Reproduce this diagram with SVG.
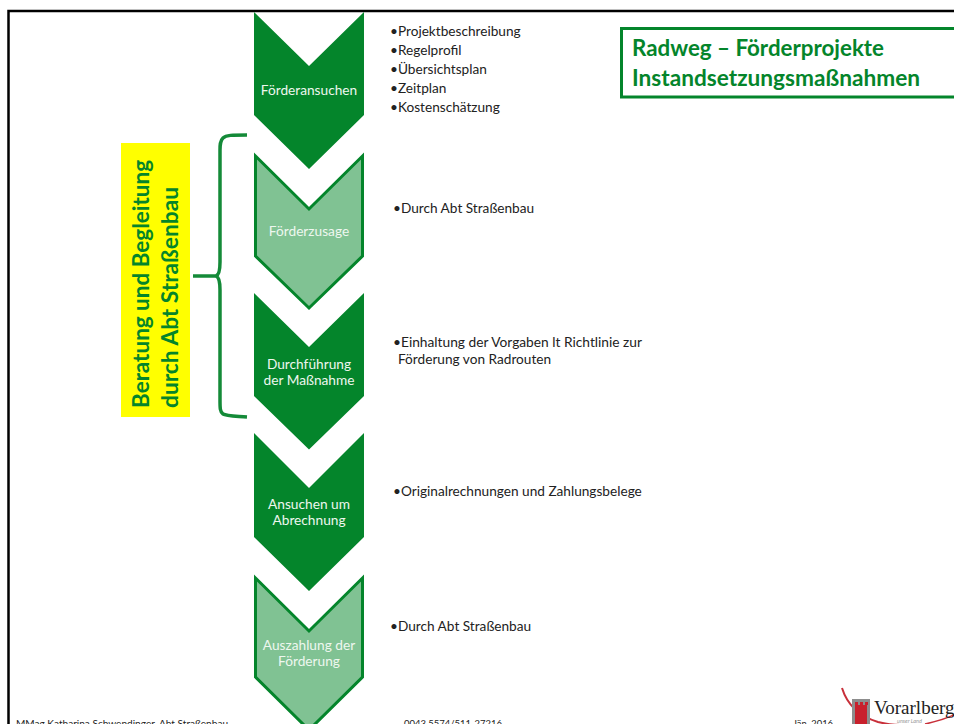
<svg xmlns="http://www.w3.org/2000/svg" width="954" height="724" viewBox="0 0 954 724">
<defs>
<style>
text{font-family:"Lato","Carlito","Noto Sans",sans-serif}
.dark{fill:#04852b;stroke:none}
.light{fill:#80c293;stroke:#04852b;stroke-width:3}
.lbl{fill:#eef7ef;font-size:13.700px;text-anchor:middle}
.b{fill:#222;font-size:13.650px}
.f{fill:#222;font-size:10px}
.t{fill:#04852b;font-size:22.600px;font-weight:700}
.v{fill:#04852b;font-size:22.500px;font-weight:700}
</style>
</defs>
<rect width="954" height="724" fill="#fff"/>
<path d="M8.500 724V11H954" fill="none" stroke="#000" stroke-width="2.500"/>
<g id="n1"><path class="dark" d="M254 12L309 66L364 12V115L309 169L254 115Z"/><text class="lbl" x="309" y="95">Förderansuchen</text></g>
<g id="n2"><path class="light" d="M255.500 156L309 209L362.500 156V256L309 308L255.500 256Z"/><text class="lbl" x="309" y="236">Förderzusage</text></g>
<g id="n3"><path class="dark" d="M254 293L309 347L364 293V396L309 449.500L254 396Z"/><text class="lbl" x="309" y="369">Durchführung</text><text class="lbl" x="309" y="385">der Maßnahme</text></g>
<g id="n4"><path class="dark" d="M254 433L309 488L364 433V537L309 591L254 537Z"/><text class="lbl" x="309" y="509">Ansuchen um</text><text class="lbl" x="309" y="525">Abrechnung</text></g>
<g id="n5"><path class="light" d="M255.500 578L309 631L362.500 578V677L309 730L255.500 677Z"/><text class="lbl" x="309" y="650">Auszahlung der</text><text class="lbl" x="309" y="666">Förderung</text></g>
<g id="connectors"><path d="M247 135C232 135 226 135 223 138C220 141 220 145 220 150V262C220 270 219 275 216 276H193M216 276C219 277 220 282 220 290V400C220 408 220 412 223 414C226 416 234 416 247 417" fill="none" stroke="#148a38" stroke-width="3.500"/></g>
<g id="side-label"><rect x="121" y="143" width="69" height="274" fill="#ff0"/><text class="v" transform="translate(149 408) rotate(-90)" textLength="248" lengthAdjust="spacingAndGlyphs">Beratung und Begleitung</text><text class="v" transform="translate(178 408) rotate(-90)" textLength="221" lengthAdjust="spacingAndGlyphs">durch Abt Straßenbau</text></g>
<g id="title"><rect x="621.500" y="28.500" width="340" height="68.500" fill="#fff" stroke="#04852b" stroke-width="3"/><text class="t" x="632" y="56" textLength="252" lengthAdjust="spacingAndGlyphs">Radweg – Förderprojekte</text><text class="t" x="632" y="86" textLength="288" lengthAdjust="spacingAndGlyphs">Instandsetzungsmaßnahmen</text></g>
<g id="notes">
<text class="b" x="390" y="36">•Projektbeschreibung</text>
<text class="b" x="390" y="55">•Regelprofil</text>
<text class="b" x="390" y="74">•Übersichtsplan</text>
<text class="b" x="390" y="93">•Zeitplan</text>
<text class="b" x="390" y="112">•Kostenschätzung</text>
<text class="b" x="393" y="213">•Durch Abt Straßenbau</text>
<text class="b" x="393" y="347" textLength="249" lengthAdjust="spacingAndGlyphs">•Einhaltung der Vorgaben lt Richtlinie zur</text>
<text class="b" x="398" y="364">Förderung von Radrouten</text>
<text class="b" x="393" y="496">•Originalrechnungen und Zahlungsbelege</text>
<text class="b" x="390" y="631">•Durch Abt Straßenbau</text>
</g>
<g id="footer">
<text class="f" x="16" y="727" textLength="212" lengthAdjust="spacingAndGlyphs">MMag Katharina Schwendinger, Abt Straßenbau</text>
<text class="f" x="404" y="727" textLength="98" lengthAdjust="spacingAndGlyphs">0043 5574/511-27216</text>
<text class="f" x="793" y="727" textLength="40" lengthAdjust="spacingAndGlyphs">Jän. 2016</text>
</g>
<g id="logo">
<path d="M842 688C847 704 858 716 878 722C886 724 893 725 900 725" fill="none" stroke="#c8303a" stroke-width="2"/>
<path d="M925 724C935 722 945 719 954 715" fill="none" stroke="#c8303a" stroke-width="1.500"/>
<rect x="852" y="699" width="18" height="25" fill="#8d8d8d"/>
<rect x="855" y="705" width="12" height="19" fill="#c8202c"/>
<path d="M855 702h3v3h-3zM860 702h3v3h-3zM865 702h3v3h-3z" fill="#c8202c"/>
<text x="874" y="714" font-size="19" fill="#222" style="font-family:'Liberation Serif',serif">Vorarlberg</text>
<text x="897" y="723" font-size="5.500" font-style="italic" fill="#999">unser Land</text>
</g>
</svg>
